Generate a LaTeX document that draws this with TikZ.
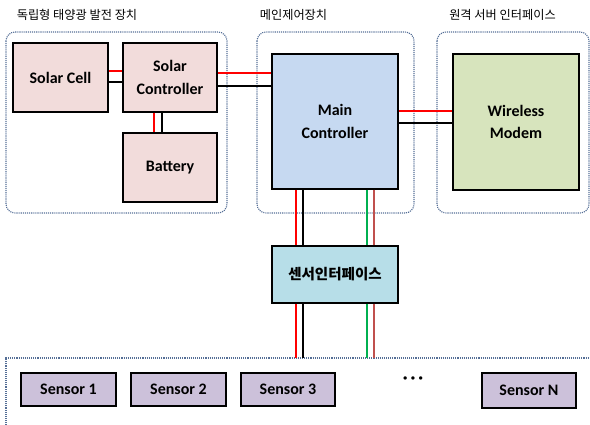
\documentclass[tikz,border=0pt]{standalone}
\usepackage{fontspec}
\setmainfont{Carlito}
\newfontfamily\kr{Noto Sans CJK KR}
\usetikzlibrary{calc,positioning}
\definecolor{pinkfill}{RGB}{242,220,219}
\definecolor{bluefill}{RGB}{198,217,241}
\definecolor{greenfill}{RGB}{215,228,189}
\definecolor{cyanfill}{RGB}{183,222,232}
\definecolor{lilacfill}{RGB}{204,193,218}
\definecolor{grpline}{RGB}{84,110,150}
\definecolor{wgreen}{RGB}{0,176,80}
\definecolor{wbrown}{RGB}{192,80,77}

\begin{document}
\begin{tikzpicture}[x=1pt,y=-1pt,
  blk/.style={draw=black,line width=1.3pt,font=\fontsize{16}{22.5}\selectfont\bfseries,align=center,inner sep=0pt},
  grp/.style={draw=grpline,densely dotted,line width=1.1pt,rounded corners=9pt},
  ttl/.style={font=\kr\fontsize{12.2}{14}\selectfont,inner sep=0pt},
  wire/.style={line width=1.3pt}]
\useasboundingbox (0,0) rectangle (590,425);
\clip (0,0) rectangle (590,425);
\draw[grp] (6,32) rectangle (227,213);
\draw[grp] (257,32) rectangle (414,213);
\draw[grp] (437,32) rectangle (589,213);
\draw[grp,rounded corners=0pt] (6,440) -- (6,358) coordinate (bus) -- (600,358);
\node[ttl] (t1) at (77,15) {독립형 태양광 발전 장치};
\node[ttl] (t2) at (293.5,15) {메인제어장치};
\node[ttl] (t3) at (502.5,15) {원격 서버 인터페이스};
\node[blk,fill=pinkfill,minimum width=95pt,minimum height=69pt] (cell) at (60.5,77.5) {Solar Cell};
\node[blk,fill=pinkfill,minimum width=94pt,minimum height=69pt] (ctrl) at (170,77.5) {Solar\\Controller};
\node[blk,fill=pinkfill,minimum width=94pt,minimum height=69pt] (batt) at (170,167.5) {Battery};
\node[blk,fill=bluefill,minimum width=126pt,minimum height=135pt] (main) at (335,121.5) {Main\\Controller};
\node[blk,fill=greenfill,minimum width=126pt,minimum height=136pt] (modem) at (516,122) {Wireless\\Modem};
\node[blk,fill=cyanfill,minimum width=126pt,minimum height=57pt,font=\kr\fontsize{14.5}{16}\selectfont\bfseries] (iface) at (335,274.5) {센서인터페이스};
\node[blk,fill=lilacfill,minimum width=95pt,minimum height=33pt] (s1) at (68.5,389.5) {Sensor 1};
\node[blk,fill=lilacfill,minimum width=95pt,minimum height=33pt] (s2) at (178.5,389.5) {Sensor 2};
\node[blk,fill=lilacfill,minimum width=94pt,minimum height=33pt] (s3) at (288,389.5) {Sensor 3};
\node[blk,fill=lilacfill,minimum width=94pt,minimum height=35pt] (sn) at (529,390.5) {Sensor N};
\node[font=\fontsize{18}{18}\selectfont\bfseries] (dots) at (413,380) {·\,·\,·};
\draw[wire,red] ([yshift=6.5pt]cell.east) -- ([yshift=6.5pt]cell.east -| ctrl.west);
\draw[wire,black] ([yshift=-4.5pt]cell.east) -- ([yshift=-4.5pt]cell.east -| ctrl.west);
\draw[wire,red] ([xshift=-16pt]ctrl.south) -- ([xshift=-16pt]ctrl.south |- batt.north);
\draw[wire,black] ([xshift=-8pt]ctrl.south) -- ([xshift=-8pt]ctrl.south |- batt.north);
\draw[wire,red] ([yshift=4.5pt]ctrl.east) -- ([yshift=4.5pt]ctrl.east -| main.west);
\draw[wire,black] ([yshift=-8.5pt]ctrl.east) -- ([yshift=-8.5pt]ctrl.east -| main.west);
\draw[wire,red] ([yshift=10.5pt]main.east) -- ([yshift=10.5pt]main.east -| modem.west);
\draw[wire,black] ([yshift=-1.5pt]main.east) -- ([yshift=-1.5pt]main.east -| modem.west);
\foreach \dx/\col in {-39/red,-32/black,32/wgreen,39/wbrown}{
  \draw[wire,\col] ([xshift=\dx pt]main.south) -- ([xshift=\dx pt]main.south |- iface.north);
  \draw[wire,\col] ([xshift=\dx pt]iface.south) -- ([xshift=\dx pt]iface.south |- bus);
}
\end{tikzpicture}
\end{document}
